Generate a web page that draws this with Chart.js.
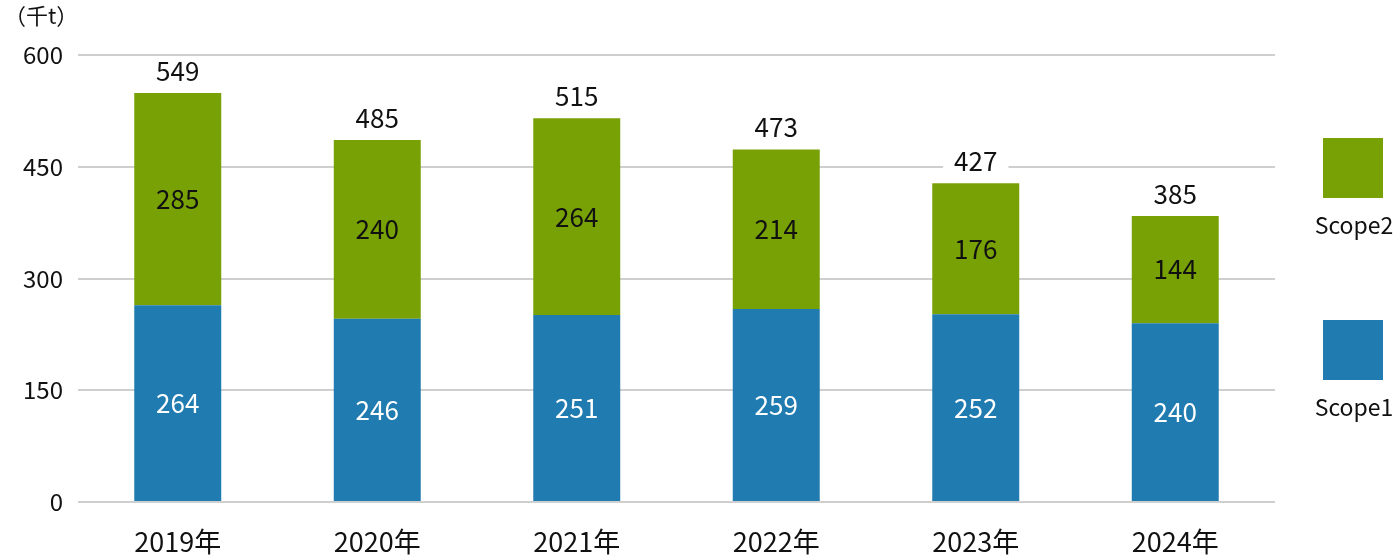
<!DOCTYPE html>
<html>
<head>
<meta charset="utf-8">
<script src="https://cdn.jsdelivr.net/npm/chart.js@4/dist/chart.umd.min.js"></script>
<style>
  html, body { margin: 0; padding: 0; background: #fff; }
  #wrap { width: 1400px; height: 560px; position: relative; }
</style>
</head>
<body>
<div id="wrap"><canvas id="emissions"></canvas></div>
<script>
// Scope1 / Scope2 emissions, thousand tonnes
const years = ["2019年", "2020年", "2021年", "2022年", "2023年", "2024年"];
const scope1 = [264, 246, 251, 259, 252, 240];
const scope2 = [285, 240, 264, 214, 176, 144];
const totals = [549, 485, 515, 473, 427, 385];
const yTicks = [0, 150, 300, 450, 600];
const unitLabel = "（千t）";

const FONT = "'Noto Sans CJK JP', 'Noto Sans', sans-serif";
const BLUE = "#1f7bb0";
const GREEN = "#78a105";

// value labels inside segments and totals above the bars
const valueLabels = {
  id: "valueLabels",
  afterDatasetsDraw(chart) {
    const ctx = chart.ctx;
    ctx.save();
    ctx.font = "26px " + FONT;
    ctx.textAlign = "center";
    ctx.textBaseline = "middle";
    chart.data.datasets.forEach((ds, di) => {
      chart.getDatasetMeta(di).data.forEach((bar, i) => {
        const mid = (bar.y + bar.base) / 2;
        ctx.fillStyle = di === 0 ? "#fff" : "#111";
        ctx.fillText(String(ds.data[i]), bar.x, mid);
      });
    });
    const top = chart.getDatasetMeta(1).data;
    top.forEach((bar, i) => {
      const txt = String(totals[i]);
      const y = bar.y - 22;
      const w = ctx.measureText(txt).width + 22;
      ctx.fillStyle = "#fff";
      ctx.fillRect(bar.x - w / 2, y - 15, w, 30);
      ctx.fillStyle = "#111";
      ctx.fillText(txt, bar.x, y);
    });
    // unit label
    ctx.textAlign = "left";
    ctx.font = "22px " + FONT;
    ctx.fillText(unitLabel, 4, 16);
    ctx.restore();
  }
};

// legend on the right: box with label underneath
const sideLegend = {
  id: "sideLegend",
  afterDraw(chart) {
    const ctx = chart.ctx;
    ctx.save();
    ctx.font = "23px " + FONT;
    ctx.textAlign = "center";
    ctx.textBaseline = "middle";
    const items = [
      { label: chart.data.datasets[1].label, color: GREEN, top: 138 },
      { label: chart.data.datasets[0].label, color: BLUE, top: 320 },
    ];
    items.forEach(it => {
      ctx.fillStyle = it.color;
      ctx.fillRect(1323, it.top, 60, 60);
      ctx.fillStyle = "#111";
      ctx.fillText(it.label, 1354, it.top + 87);
    });
    ctx.restore();
  }
};

new Chart(document.getElementById("emissions"), {
  type: "bar",
  data: {
    labels: years,
    datasets: [
      { label: "Scope1", data: scope1, backgroundColor: BLUE, barPercentage: 0.436, categoryPercentage: 1 },
      { label: "Scope2", data: scope2, backgroundColor: GREEN, barPercentage: 0.436, categoryPercentage: 1 },
    ],
  },
  options: {
    responsive: true,
    maintainAspectRatio: false,
    animation: false,
    layout: { padding: { top: 55, right: 125, left: 0, bottom: 0 } },
    plugins: { legend: { display: false }, tooltip: { enabled: false } },
    scales: {
      x: {
        stacked: true,
        grid: { display: false },
        border: { display: false },
        ticks: { color: "#111", font: { family: FONT, size: 27 }, padding: 16 },
        afterFit(axis) { axis.height = 58; },
      },
      y: {
        stacked: true,
        min: 0,
        max: 600,
        afterBuildTicks(axis) { axis.ticks = yTicks.map(v => ({ value: v })); },
        grid: { color: "#cfcfcf", lineWidth: 2, drawTicks: false },
        border: { display: false },
        ticks: { color: "#111", font: { family: FONT, size: 24 }, padding: 15 },
        afterFit(axis) { axis.width = 78; },
      },
    },
  },
  plugins: [valueLabels, sideLegend],
});
</script>
</body>
</html>
